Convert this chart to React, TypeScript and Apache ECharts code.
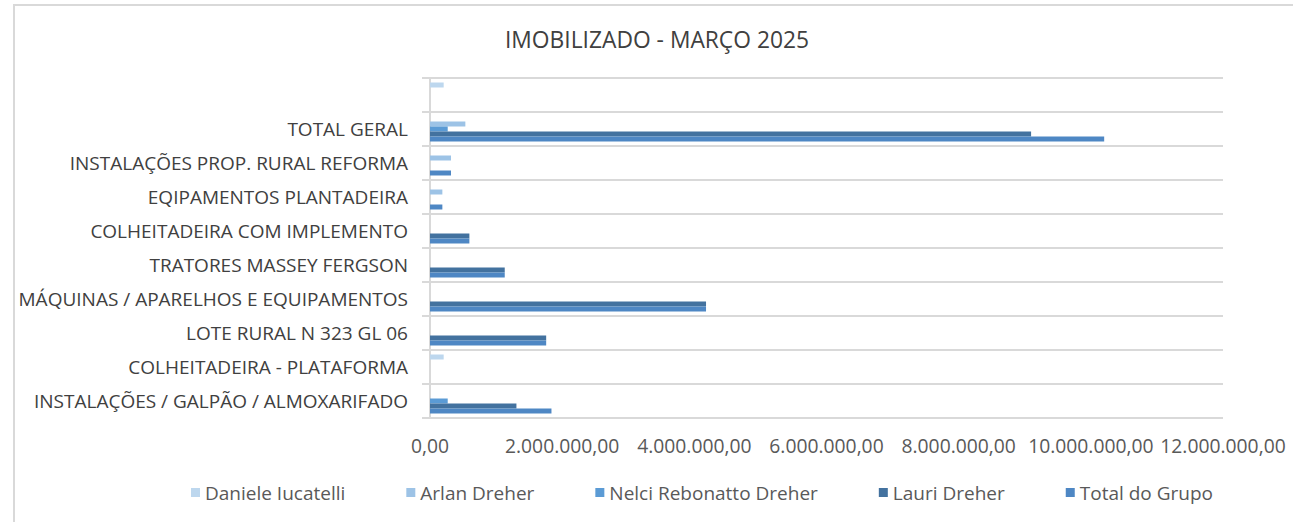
import React, { useEffect, useRef } from "react";
import * as echarts from "echarts";

const title = "IMOBILIZADO - MARÇO 2025";
const categories = [
  "INSTALAÇÕES / GALPÃO / ALMOXARIFADO",
  "COLHEITADEIRA - PLATAFORMA",
  "LOTE RURAL N 323 GL 06",
  "MÁQUINAS / APARELHOS E EQUIPAMENTOS",
  "TRATORES MASSEY FERGSON",
  "COLHEITADEIRA COM IMPLEMENTO",
  "EQIPAMENTOS PLANTADEIRA",
  "INSTALAÇÕES PROP. RURAL REFORMA",
  "TOTAL GERAL",
  "",
];
const seriesNames = ["Daniele Iucatelli", "Arlan Dreher", "Nelci Rebonatto Dreher", "Lauri Dreher", "Total do Grupo"];
const daniele = [0, 207000, 0, 0, 0, 0, 0, 0, 0, 207000];
const arlan = [0, 0, 0, 0, 0, 0, 187000, 318000, 535000, 0];
const nelci = [268000, 0, 0, 0, 0, 0, 0, 0, 268000, 0];
const lauri = [1308000, 0, 1758000, 4177000, 1131000, 596000, 0, 0, 9096000, 0];
const total = [1838000, 0, 1758000, 4177000, 1131000, 596000, 187000, 318000, 10202000, 0];
const seriesData = [daniele, arlan, nelci, lauri, total];
const colors = ["#BDD7EE", "#9DC3E6", "#5B9BD5", "#43729F", "#4E87C4"];

const axisMin = 0;
const axisMax = 12000000;
const axisStep = 2000000;

function fmt(v: number): string {
  const [i, d] = v.toFixed(2).split(".");
  return i.replace(/\B(?=(\d{3})+(?!\d))/g, ".") + "," + d;
}

export default function App() {
  const ref = useRef<HTMLDivElement>(null);
  useEffect(() => {
    if (!ref.current) return;
    const chart = echarts.init(ref.current, undefined, { renderer: "svg" });
    const font = "'Open Sans', sans-serif";
    chart.setOption({
      animation: false,
      backgroundColor: "#ffffff",
      textStyle: { fontFamily: font },
      title: {
        text: title,
        left: 505,
        top: 28,
        padding: 0,
        textStyle: { fontFamily: font, fontSize: 22.8, fontWeight: "normal", color: "#404040" },
      },
      graphic: [
        {
          type: "rect",
          shape: { x: 14, y: 5, width: 1400, height: 700 },
          style: { fill: "none", stroke: "#d9d9d9", lineWidth: 2 },
          silent: true,
        },
      ],
      legend: {
        top: 483,
        left: 191,
        padding: 0,
        icon: "rect",
        itemWidth: 9,
        itemHeight: 9,
        itemGap: 61,
        textStyle: { fontFamily: font, fontSize: 19, color: "#595959" },
        data: seriesNames,
      },
      grid: { left: 430, right: 70, top: 78, bottom: 104, containLabel: false },
      xAxis: {
        type: "value",
        min: axisMin,
        max: axisMax,
        interval: axisStep,
        axisLine: { show: false },
        axisTick: { show: false },
        splitLine: { show: false },
        axisLabel: {
          formatter: (v: number) => fmt(v),
          fontFamily: font,
          fontSize: 19.3,
          color: "#595959",
          margin: 18,
        },
      },
      yAxis: {
        type: "category",
        data: categories,
        axisLine: { show: true, lineStyle: { color: "#d9d9d9", width: 2 } },
        axisTick: { show: true, length: 8, lineStyle: { color: "#d9d9d9", width: 2 } },
        splitLine: { show: true, lineStyle: { color: "#d9d9d9", width: 2 } },
        axisLabel: { fontFamily: font, fontSize: 19, color: "#404040", margin: 22 },
      },
      series: seriesData.map((d, i) => ({
        name: seriesNames[i],
        type: "bar",
        data: d,
        barWidth: 5,
        barGap: "0%",
        itemStyle: { color: colors[i] },
      })),
    });
    return () => chart.dispose();
  }, []);
  return (
    <div style={{ position: "absolute", left: 0, top: 0, width: 1293, height: 522 }}>
      <div ref={ref} style={{ width: 1293, height: 522 }} />
    </div>
  );
}
